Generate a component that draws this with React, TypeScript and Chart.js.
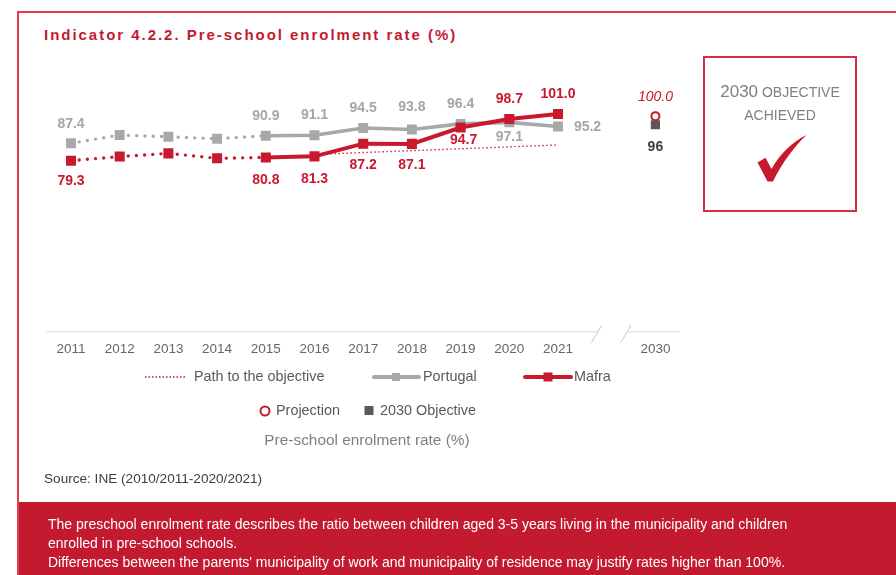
import React, { useEffect, useRef } from 'react';
import { Chart, registerables } from 'chart.js';

Chart.register(...registerables);

// ---------- data ----------
const years = ['2011', '2012', '2013', '2014', '2015', '2016', '2017', '2018', '2019', '2020', '2021', '', '2030'];
const portugal = [87.4, 91.2, 90.4, 89.5, 90.9, 91.1, 94.5, 93.8, 96.4, 97.1, 95.2, null, null];
const mafra = [79.3, 81.2, 82.7, 80.4, 80.8, 81.3, 87.2, 87.1, 94.7, 98.7, 101.0, null, null];
const pathToObjective = [null, null, null, null, null, 82.2, null, null, null, null, 86.6, null, null];
const projection = [null, null, null, null, null, null, null, null, null, null, null, null, 100.0];
const objective2030 = [null, null, null, null, null, null, null, null, null, null, null, null, 96];

const title = 'Indicator 4.2.2. Pre-school enrolment rate (%)';
const legendPath = 'Path to the objective';
const legendPortugal = 'Portugal';
const legendMafra = 'Mafra';
const legendProjection = 'Projection';
const legendObjective = '2030 Objective';
const legendCaption = 'Pre-school enrolment rate (%)';
const source = 'Source: INE (2010/2011-2020/2021)';
const noteLines = [
  'The preschool enrolment rate describes the ratio between children aged 3-5 years living in the municipality and children',
  'enrolled in pre-school schools.',
  "Differences between the parents' municipality of work and municipality of residence may justify rates higher than 100%.",
];

// ---------- styles ----------
const RED = '#C8192E';
const GRAY = '#A8A8A8';
const DARK = '#595959';
const FONT = '"Liberation Sans", Arial, sans-serif';

// label offsets (dx, dy) per dataset index – styling only
const labelStyles: Record<string, { font: string; color: string; digits: number; offsets: Record<number, [number, number]> }> = {
  Portugal: {
    font: `bold 14px ${FONT}`,
    color: '#A6A6A6',
    digits: 1,
    offsets: { 0: [0, -19], 4: [0, -20], 5: [0, -20], 6: [0, -20], 7: [0, -22], 8: [0, -19.5], 9: [0, 14.5], 10: [29.5, 0.5] },
  },
  Mafra: {
    font: `bold 14px ${FONT}`,
    color: RED,
    digits: 1,
    offsets: { 0: [0, 20.5], 4: [0, 22.4], 5: [0, 22.4], 6: [0, 21.7], 7: [0, 21.7], 8: [3, 12.3], 9: [0, -20], 10: [0, -20] },
  },
  Projection: {
    font: `italic 14px ${FONT}`,
    color: RED,
    digits: 1,
    offsets: { 12: [0, -19.3] },
  },
  Objective: {
    font: `bold 14px ${FONT}`,
    color: '#404040',
    digits: 0,
    offsets: { 12: [0, 22.7] },
  },
};

const valueLabels = {
  id: 'valueLabels',
  afterDatasetsDraw(chart: any) {
    const ctx = chart.ctx;
    chart.data.datasets.forEach((ds: any, di: number) => {
      const st = labelStyles[ds.label];
      if (!st) return;
      const meta = chart.getDatasetMeta(di);
      ds.data.forEach((v: number | null, i: number) => {
        const off = st.offsets[i];
        if (!off || v == null) return;
        const el = meta.data[i];
        ctx.save();
        ctx.font = st.font;
        ctx.fillStyle = st.color;
        ctx.textAlign = 'center';
        ctx.textBaseline = 'middle';
        ctx.fillText(v.toFixed(st.digits), el.x + off[0], el.y + off[1]);
        ctx.restore();
      });
    });
  },
};

const brokenAxis = {
  id: 'brokenAxis',
  afterDraw(chart: any) {
    const ctx = chart.ctx;
    const xs = chart.scales.x;
    const { left, right, bottom } = chart.chartArea;
    const w = xs.getPixelForValue(1) - xs.getPixelForValue(0);
    const g1 = xs.getPixelForValue(10) + 0.82 * w;
    const g2 = xs.getPixelForValue(11) + 0.42 * w;
    ctx.save();
    ctx.strokeStyle = '#D9D9D9';
    ctx.lineWidth = 1;
    ctx.beginPath();
    ctx.moveTo(left, bottom + 0.5);
    ctx.lineTo(g1, bottom + 0.5);
    ctx.moveTo(g2, bottom + 0.5);
    ctx.lineTo(right, bottom + 0.5);
    ctx.stroke();
    ctx.strokeStyle = '#C8C8C8';
    ctx.beginPath();
    [g1, g2].forEach((g) => {
      ctx.moveTo(g - 6.5, bottom + 11.5);
      ctx.lineTo(g + 4, bottom - 6.3);
    });
    ctx.stroke();
    ctx.restore();
  },
};

const customLegend = {
  id: 'customLegend',
  afterDraw(chart: any) {
    const ctx = chart.ctx;
    ctx.save();
    ctx.font = `14.4px ${FONT}`;
    ctx.fillStyle = DARK;
    ctx.textBaseline = 'middle';
    ctx.textAlign = 'left';
    const y1 = 377;
    // path to objective
    ctx.strokeStyle = RED;
    ctx.lineWidth = 1.5;
    ctx.setLineDash([1.5, 2]);
    ctx.beginPath();
    ctx.moveTo(145, y1);
    ctx.lineTo(187, y1);
    ctx.stroke();
    ctx.setLineDash([]);
    ctx.fillText(legendPath, 194, y1);
    // Portugal
    ctx.strokeStyle = GRAY;
    ctx.lineWidth = 4;
    ctx.lineCap = 'round';
    ctx.beginPath();
    ctx.moveTo(374, y1);
    ctx.lineTo(419, y1);
    ctx.stroke();
    ctx.fillStyle = GRAY;
    ctx.fillRect(392, y1 - 4, 8, 8);
    ctx.fillStyle = DARK;
    ctx.fillText(legendPortugal, 423, y1);
    // Mafra
    ctx.strokeStyle = RED;
    ctx.beginPath();
    ctx.moveTo(525, y1);
    ctx.lineTo(571, y1);
    ctx.stroke();
    ctx.fillStyle = RED;
    ctx.fillRect(543.5, y1 - 4.5, 9, 9);
    ctx.fillStyle = DARK;
    ctx.fillText(legendMafra, 574, y1);
    // row 2
    const y2 = 411;
    ctx.strokeStyle = RED;
    ctx.lineWidth = 2;
    ctx.beginPath();
    ctx.arc(265, y2, 4.5, 0, Math.PI * 2);
    ctx.stroke();
    ctx.fillText(legendProjection, 276, y2);
    ctx.fillStyle = DARK;
    ctx.fillRect(364.5, y2 - 5, 9, 9);
    ctx.fillText(legendObjective, 380, y2);
    // caption
    ctx.font = `15.4px ${FONT}`;
    ctx.fillStyle = '#7F7F7F';
    ctx.textAlign = 'center';
    ctx.fillText(legendCaption, 367, 441);
    ctx.restore();
  },
};

function ChartCanvas() {
  const ref = useRef<HTMLCanvasElement | null>(null);
  useEffect(() => {
    if (!ref.current) return;
    Chart.defaults.font.family = FONT;
    const chart = new Chart(ref.current, {
      type: 'line',
      data: {
        labels: years,
        datasets: [
          {
            label: 'Projection',
            data: projection,
            showLine: false,
            pointStyle: 'circle',
            pointRadius: 4,
            pointBorderWidth: 2,
            pointBorderColor: RED,
            pointBackgroundColor: '#FFFFFF',
            borderColor: RED,
          },
          {
            label: 'Objective',
            data: objective2030,
            showLine: false,
            pointStyle: 'rect',
            pointRadius: 6.5,
            pointBorderWidth: 0,
            pointBackgroundColor: DARK,
            borderColor: DARK,
          },
          {
            label: 'Mafra',
            data: mafra,
            borderColor: RED,
            backgroundColor: RED,
            borderWidth: 4,
            borderCapStyle: 'round',
            pointStyle: 'rect',
            pointRadius: 7.1,
            pointBorderWidth: 0,
            pointBackgroundColor: RED,
            segment: {
              borderDash: (c: any) => (c.p0DataIndex < 4 ? [0, 8.2] : undefined),
              borderWidth: (c: any) => (c.p0DataIndex < 4 ? 3.4 : 4),
            },
          },
          {
            label: 'Path',
            data: pathToObjective,
            spanGaps: true,
            borderColor: RED,
            borderWidth: 1.4,
            borderDash: [1.4, 2.6],
            pointRadius: 0,
          },
          {
            label: 'Portugal',
            data: portugal,
            borderColor: GRAY,
            backgroundColor: GRAY,
            borderWidth: 3.5,
            borderCapStyle: 'round',
            pointStyle: 'rect',
            pointRadius: 7,
            pointBorderWidth: 0,
            pointBackgroundColor: GRAY,
            segment: {
              borderDash: (c: any) => (c.p0DataIndex < 4 ? [0, 8.3] : undefined),
              borderWidth: (c: any) => (c.p0DataIndex < 4 ? 3.4 : 3.6),
            },
          },
        ],
      },
      options: {
        animation: false,
        responsive: false,
        maintainAspectRatio: false,
        layout: { padding: { left: 46.65, right: 216.25, top: 73.1, bottom: 112.5 } },
        plugins: { legend: { display: false }, tooltip: { enabled: false }, title: { display: false } },
        scales: {
          y: { display: false, min: 0, max: 120 },
          x: {
            offset: true,
            grid: { display: false, drawTicks: false },
            border: { display: false },
            ticks: { color: '#666666', font: { size: 13.5 }, padding: 10, autoSkip: false, maxRotation: 0 },
            afterFit: (s: any) => {
              s.height = 26.2;
            },
          },
        },
      },
      plugins: [brokenAxis, valueLabels, customLegend],
    });
    return () => chart.destroy();
  }, []);
  return <canvas ref={ref} width={896} height={470} style={{ position: 'absolute', left: 0, top: 0, width: 896, height: 470 }} />;
}

export default function App() {
  return (
    <div style={{ position: 'absolute', left: 0, top: 0, width: 896, height: 575, overflow: 'hidden', background: '#FFFFFF', fontFamily: FONT }}>
      <div style={{ position: 'absolute', left: 17, top: 11, width: 900, height: 600, borderTop: '2px solid #E8394E', borderLeft: '2px solid #E8394E' }} />
      <div style={{ position: 'absolute', left: 44, top: 25.5, fontSize: 15, lineHeight: '17px', fontWeight: 'bold', color: '#C41A30', letterSpacing: 1.97, whiteSpace: 'nowrap' }}>{title}</div>
      <ChartCanvas />
      <div style={{ position: 'absolute', left: 703, top: 56, width: 150, height: 152, border: '2px solid #D42F45', textAlign: 'center', color: '#7F7F7F' }}>
        <div style={{ position: 'absolute', left: 0, right: 0, top: 24, lineHeight: '20px', whiteSpace: 'nowrap' }}>
          <span style={{ fontSize: 17 }}>2030</span>
          <span style={{ fontSize: 14 }}> OBJECTIVE</span>
        </div>
        <div style={{ position: 'absolute', left: 0, right: 0, top: 47, lineHeight: '20px', fontSize: 14 }}>ACHIEVED</div>
      </div>
      <svg width={896} height={575} style={{ position: 'absolute', left: 0, top: 0 }}>
        <path d="M757.5,162.5 L765.5,157.8 L771.5,169 C780,154 792,142 806.5,135 C795,146 783,161 773,181.5 L767.5,181.5 Z" fill={RED} />
      </svg>
      <div style={{ position: 'absolute', left: 44, top: 471, fontSize: 13.6, lineHeight: '16px', color: '#404040', whiteSpace: 'nowrap' }}>{source}</div>
      <div style={{ position: 'absolute', left: 19, top: 502, width: 877, height: 73, background: '#C41A30' }} />
      <div style={{ position: 'absolute', left: 48, top: 514.5, color: '#FFFFFF', fontSize: 14, lineHeight: '19px', whiteSpace: 'nowrap' }}>
        {noteLines.map((l, i) => (
          <div key={i}>{l}</div>
        ))}
      </div>
    </div>
  );
}
